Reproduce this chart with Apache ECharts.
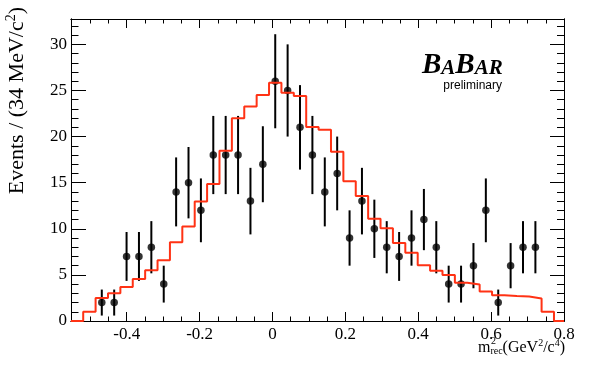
<!DOCTYPE html>
<html><head><meta charset="utf-8">
<script src="https://cdn.jsdelivr.net/npm/echarts@6/dist/echarts.min.js"></script>
<style>html,body{margin:0;padding:0;background:#fff}#c{width:594px;height:382px}</style>
</head><body><div id="c"></div>
<script>
// ---- data ----
const binLow = -0.5535;      // lower edge of first histogram bin
const binWidth = 0.034;      // 34 MeV bins
const histValues = [0, 1.0, 2.5, 3.0, 3.7, 4.55, 5.5, 6.6, 8.55, 10.25,
  12.95, 14.85, 18.45, 22.0, 23.25, 24.5, 25.85, 24.75, 24.4, 21.05,
  20.75, 18.35, 15.15, 13.55, 11.1, 10.05, 8.45, 7.4, 6.05, 5.45,
  5.0, 4.15, 3.95, 3.2, 2.8, 2.7, 2.65, 2.45, 1.0, 0];
const pointFirstBin = 2;
const pointCounts = [2, 2, 7, 7, 8, 4, 14, 15, 12, 18, 18, 18, 13, 17, 26, 25, 21, 18,
  14, 16, 9, 13, 10, 8, 7, 9, 11, 8, 4, 4, 6, 12, 2, 6, 8, 8];
const pointErrors = [1.41, 1.41, 2.65, 2.65, 2.83, 2.00, 3.74, 3.87, 3.46, 4.24, 4.24, 4.24,
  3.61, 4.12, 5.10, 5.00, 4.58, 4.24, 3.74, 4.00, 3.00, 3.61, 3.16, 2.83, 2.65, 3.00,
  3.32, 2.83, 2.00, 2.00, 2.45, 3.46, 1.41, 2.45, 2.83, 2.83];
const xMajorTicks = [-0.4, -0.2, 0, 0.2, 0.4, 0.6, 0.8];
const xMinorTicks = [-0.5, -0.45, -0.35, -0.3, -0.25, -0.15, -0.1, -0.05, 0.05, 0.1, 0.15,
  0.25, 0.3, 0.35, 0.45, 0.5, 0.55, 0.65, 0.7, 0.75];
const yMajorTicks = [0, 5, 10, 15, 20, 25, 30];
const yMinorTicks = [1, 2, 3, 4, 6, 7, 8, 9, 11, 12, 13, 14, 16, 17, 18, 19, 21, 22, 23, 24,
  26, 27, 28, 29, 31, 32];
const xMin = -0.553, xMax = 0.8, yMin = 0, yMax = 32.75;

// ---- build ----
const histData = histValues.map((v, i) => [binLow + i * binWidth, v]);
histData.push([xMax, histValues[histValues.length - 1]]);
const pointData = pointCounts.map((v, i) => [binLow + (pointFirstBin + i + 0.5) * binWidth, v, pointErrors[i]]);

const serif = 'Liberation Serif';
function xAx(pos, ticks, len, labels) {
  return {
    type: 'value', position: pos, min: xMin, max: xMax,
    axisLine: { show: true, onZero: false, lineStyle: { color: '#000', width: 1 } },
    axisTick: { show: true, inside: true, length: len, customValues: ticks, lineStyle: { color: '#000', width: 1 } },
    axisLabel: labels ? { show: true, customValues: ticks, margin: 5, color: '#000', fontFamily: serif, fontSize: 17,
      formatter: v => String(Math.round(v * 10) / 10) } : { show: false },
    splitLine: { show: false }
  };
}
function yAx(pos, ticks, len, labels) {
  return {
    type: 'value', position: pos, min: yMin, max: yMax,
    axisLine: { show: true, onZero: false, lineStyle: { color: '#000', width: 1 } },
    axisTick: { show: true, inside: true, length: len, customValues: ticks, lineStyle: { color: '#000', width: 1 } },
    axisLabel: labels ? { show: true, customValues: ticks, margin: 4, color: '#000', fontFamily: serif, fontSize: 17 } : { show: false },
    splitLine: { show: false }
  };
}

// text measurement for the stacked super/subscript in the x title
const mctx = document.createElement('canvas').getContext('2d');
function tw(t, size) { mctx.font = size + 'px "' + serif + '"'; return mctx.measureText(t).width; }
const titleRight = 565, bigF = 16, smallF = 10;
const titleW = tw('m', bigF) + tw('rec', smallF) + tw('(GeV', bigF) + tw('2', smallF) + tw('/c', bigF) + tw('4', smallF) + tw(')', bigF);
const titleLeft = titleRight - titleW;
const supX = titleLeft + tw('m', bigF) + 0.5;

const chart = echarts.init(document.getElementById('c'), null, { renderer: 'canvas' });
chart.setOption({
  animation: false,
  backgroundColor: '#fff',
  grid: { left: 71, right: 30, top: 19, bottom: 61, containLabel: false },
  xAxis: [xAx('bottom', xMajorTicks, 9, true), xAx('bottom', xMinorTicks, 4.5, false),
          xAx('top', xMajorTicks, 9, false), xAx('top', xMinorTicks, 4.5, false)],
  yAxis: [yAx('left', yMajorTicks, 15, true), yAx('left', yMinorTicks, 7.5, false),
          yAx('right', yMajorTicks, 14, false), yAx('right', yMinorTicks, 7, false)],
  series: [
    {
      type: 'custom', xAxisIndex: 0, yAxisIndex: 0, data: pointData, clip: true,
      encode: { x: 0, y: 1 }, z: 3,
      renderItem: function (params, api) {
        const x = api.value(0), y = api.value(1), e = api.value(2);
        const p1 = api.coord([x, y - e]), p2 = api.coord([x, y + e]);
        return { type: 'line', shape: { x1: p1[0], y1: p1[1], x2: p2[0], y2: p2[1] },
          style: { stroke: '#000', lineWidth: 2 } };
      }
    },
    {
      type: 'scatter', xAxisIndex: 0, yAxisIndex: 0, data: pointData.map(p => [p[0], p[1]]),
      symbol: 'circle', symbolSize: 7.5, itemStyle: { color: '#000' }, z: 4
    },
    {
      type: 'line', xAxisIndex: 0, yAxisIndex: 0, data: histData, step: 'end',
      showSymbol: false, symbol: 'none', clip: true,
      lineStyle: { color: '#ff3214', width: 2 }, z: 5
    }
  ],
  graphic: [
    {
      type: 'text', x: 16, y: 7, rotation: Math.PI / 2,
      style: {
        text: '{n|Events / (34 MeV/c}{sp|2}{n|)}',
        align: 'right', verticalAlign: 'middle',
        rich: {
          n: { fontFamily: serif, fontSize: 22, color: '#000', lineHeight: 24, verticalAlign: 'bottom' },
          sp: { fontFamily: serif, fontSize: 14, color: '#000', lineHeight: 24, verticalAlign: 'top', padding: [0, 0, 8, 0] }
        }
      }
    },
    {
      type: 'text', x: 422, y: 80,
      style: {
        text: '{b|B}{s|A}{b|B}{s|AR}',
        align: 'left', verticalAlign: 'bottom',
        rich: {
          b: { fontFamily: serif, fontWeight: 'bold', fontStyle: 'italic', fontSize: 29, lineHeight: 29, color: '#000', verticalAlign: 'bottom' },
          s: { fontFamily: serif, fontWeight: 'bold', fontStyle: 'italic', fontSize: 21, lineHeight: 21, color: '#000', verticalAlign: 'bottom', padding: [0, 0, 1, 0] }
        }
      }
    },
    {
      type: 'text', x: 502, y: 80,
      style: { text: 'preliminary', align: 'right', verticalAlign: 'top', fontFamily: 'Liberation Sans', fontSize: 12, fill: '#000' }
    },
    {
      type: 'text', x: titleRight, y: 356,
      style: {
        text: '{n|m}{sb|rec}{n|(GeV}{sp|2}{n|/c}{sp|4}{n|)}',
        align: 'right', verticalAlign: 'bottom',
        rich: {
          n: { fontFamily: serif, fontSize: bigF, color: '#000', lineHeight: 18, verticalAlign: 'bottom' },
          sb: { fontFamily: serif, fontSize: smallF, color: '#000', lineHeight: 12, verticalAlign: 'bottom', padding: [0, 0, 0, 0] },
          sp: { fontFamily: serif, fontSize: smallF, color: '#000', lineHeight: 18, verticalAlign: 'top', padding: [0, 0, 6, 0] }
        }
      }
    },
    {
      type: 'text', x: supX, y: 336,
      style: { text: '2', align: 'left', verticalAlign: 'top', fontFamily: serif, fontSize: smallF, fill: '#000' }
    }
  ]
});
</script>
</body></html>
